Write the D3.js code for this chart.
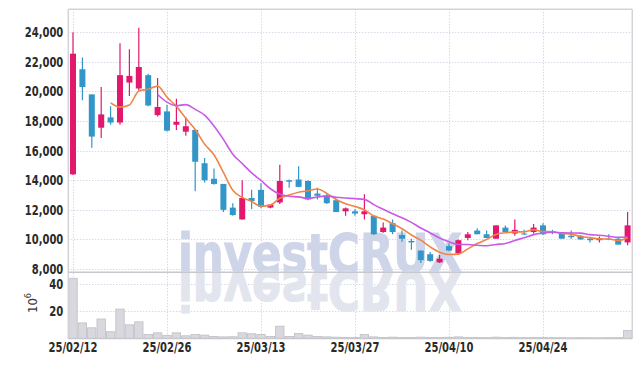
<!DOCTYPE html>
<html>
<head>
<meta charset="utf-8">
<script src="https://cdn.jsdelivr.net/npm/d3@7"></script>
<style>
body { margin: 0; background: #fff; }
svg { display: block; }
.axis text { font-family: "DejaVu Sans Condensed", "DejaVu Sans", sans-serif; font-stretch: condensed; font-weight: bold; font-size: 14px; fill: #2a2a2a; }
</style>
</head>
<body>
<svg id="chart" width="643" height="366"></svg>
<script>
// trading days (KRX)
var dates = ["2025-02-12","2025-02-13","2025-02-14","2025-02-17","2025-02-18","2025-02-19","2025-02-20","2025-02-21","2025-02-24","2025-02-25",
  "2025-02-26","2025-02-27","2025-02-28","2025-03-04","2025-03-05","2025-03-06","2025-03-07","2025-03-10","2025-03-11","2025-03-12",
  "2025-03-13","2025-03-14","2025-03-17","2025-03-18","2025-03-19","2025-03-20","2025-03-21","2025-03-24","2025-03-25","2025-03-26",
  "2025-03-27","2025-03-28","2025-03-31","2025-04-01","2025-04-02","2025-04-03","2025-04-04","2025-04-07","2025-04-08","2025-04-09",
  "2025-04-10","2025-04-11","2025-04-14","2025-04-15","2025-04-16","2025-04-17","2025-04-18","2025-04-21","2025-04-22","2025-04-23",
  "2025-04-24","2025-04-25","2025-04-28","2025-04-29","2025-04-30","2025-05-02","2025-05-07","2025-05-08","2025-05-09","2025-05-12"]

var open = [14400,21500,19800,17550,18250,17900,20600,20200,21100,18400,
  18650,17750,17280,17400,15150,14100,13750,12150,11350,12800,
  13350,12150,12500,14000,14050,13950,13100,12950,12650,11900,
  11900,11700,11600,10500,11100,10300,9900,9250,9000,8450,
  9550,9050,10100,10600,10350,10050,10800,10400,10400,10500,
  10950,10550,10450,10250,10250,10050,9950,10050,10050,9800]
var high = [24000,22300,19800,20300,19000,23250,22850,24300,21200,20900,
  19100,19500,18250,17450,15500,14800,13750,12450,14000,13350,
  13800,12400,15050,14050,14950,14000,13500,13100,12750,12150,
  12050,13050,11600,11150,11350,10600,10050,9250,9150,8950,
  9750,10000,10500,10750,10600,10950,10950,11350,10650,11050,
  11100,10650,10450,10600,10300,10150,10200,10350,10100,11850]
var low = [14350,19400,16200,16850,17750,17750,19700,20050,19000,18300,
  17300,17400,17000,13250,13850,13700,11850,11600,11350,12050,
  12100,12100,12400,13500,13550,12650,12700,12400,11850,11600,
  11600,11350,10300,10450,10350,9850,9300,8400,8500,8400,
  9200,9050,9950,10350,10100,10050,10500,10250,10300,10400,
  10300,10350,10050,10050,10000,9800,9800,9950,9650,9600]
var close = [22550,20300,16950,18450,17900,21100,21050,21650,19050,18950,
  17350,17950,17650,15250,14000,13750,12000,11650,12800,12600,
  12200,12350,13950,13900,13550,12700,12950,12450,11850,12100,
  11750,11900,10350,10800,10500,10050,9800,8600,8550,8700,
  9250,9950,10350,10350,10100,10950,10500,10650,10350,10800,
  10350,10450,10050,10150,10000,9950,10050,10000,9650,10950]
// volume, millions of shares
var volume = [44.4,11.5,7.9,14.4,5.0,21.7,10.1,12.3,3.0,4.2,
  2.3,4.2,2.0,3.0,2.5,1.5,1.2,1.3,4.2,3.5,
  3.0,1.5,9.1,1.5,3.7,2.5,1.5,1.2,1.0,0.8,
  0.8,3.0,1.2,0.8,1.0,0.8,0.7,1.0,0.8,0.7,
  0.9,1.2,0.7,0.8,0.6,1.0,0.7,0.9,0.6,0.7,
  0.8,0.6,0.6,0.5,0.6,0.5,0.5,0.6,0.7,5.9]

var priceTicks = [8000,10000,12000,14000,16000,18000,20000,22000,24000]
var volumeTicks = [20,40]
var dateTickIndex = [0,10,20,30,40,50]
var maPeriods = [5,10]

var upColor = '#e2186c'
var downColor = '#3396c8'
var maColors = ['#ef8547', '#c85ae6']
var gridColor = '#c4c8da'
var frameColor = '#d4d4d8'

var plotLeft = 68.3, plotRight = 632.3, plotTop = 9.3, plotSplit = 272.3, plotBottom = 338.5

var svg = d3.select('#chart')
var parseDate = d3.timeParse('%Y-%m-%d')
var fmtDate = d3.timeFormat('%y/%m/%d')

var x = d3.scaleBand().domain(d3.range(dates.length)).range([plotLeft, plotRight])
var bw = x.bandwidth()
var cx = function(i) { return x(i) + bw / 2 }
var y = d3.scaleLinear().domain([7780, 25550]).range([plotSplit, plotTop])
var yv = d3.scaleLinear().domain([0, d3.max(volume) * 1.1]).range([plotBottom, plotSplit])

// grid
var grid = svg.append('g').attr('stroke', gridColor).attr('stroke-dasharray', '1,2')
grid.selectAll('.hp').data(priceTicks).enter().append('line')
  .attr('x1', plotLeft).attr('x2', plotRight)
  .attr('y1', function(d) { return Math.round(y(d)) + 0.5 })
  .attr('y2', function(d) { return Math.round(y(d)) + 0.5 })
grid.selectAll('.hv').data(volumeTicks).enter().append('line')
  .attr('x1', plotLeft).attr('x2', plotRight)
  .attr('y1', function(d) { return Math.round(yv(d)) + 0.5 })
  .attr('y2', function(d) { return Math.round(yv(d)) + 0.5 })
grid.selectAll('.vx').data(dateTickIndex).enter().append('line')
  .attr('x1', function(i) { return Math.round(cx(i)) + 0.5 })
  .attr('x2', function(i) { return Math.round(cx(i)) + 0.5 })
  .attr('y1', plotTop).attr('y2', plotBottom)

// watermark with reflection
var wm = svg.append('g')
wm.append('text').text('investCRUX')
  .attr('x', 178).attr('y', plotSplit - 0.5)
  .attr('textLength', 284).attr('lengthAdjust', 'spacingAndGlyphs')
  .attr('font-family', 'DejaVu Sans').attr('font-weight', 'bold').attr('font-size', 54)
  .attr('fill', '#cfd5e8').attr('stroke', '#cfd5e8').attr('stroke-width', 1.2)
wm.append('text').text('investCRUX')
  .attr('x', 178).attr('y', plotSplit + 0.5)
  .attr('transform', 'translate(0,' + (2 * plotSplit) + ') scale(1,-1)')
  .attr('textLength', 284).attr('lengthAdjust', 'spacingAndGlyphs')
  .attr('font-family', 'DejaVu Sans').attr('font-weight', 'bold').attr('font-size', 54)
  .attr('fill', '#e3e5ee').attr('stroke', '#e3e5ee').attr('stroke-width', 1.2)

// volume bars
svg.append('g').selectAll('rect').data(volume).enter().append('rect')
  .attr('x', function(d, i) { return x(i) + 0.5 })
  .attr('width', bw - 1)
  .attr('y', function(d) { return yv(d) })
  .attr('height', function(d) { return plotBottom - yv(d) })
  .attr('fill', '#d8d8de').attr('stroke', '#bfbfc7').attr('stroke-width', 0.8)

// frame
function rule(x1, y1, x2, y2, c) {
  svg.append('line').attr('x1', x1).attr('y1', y1).attr('x2', x2).attr('y2', y2)
    .attr('stroke', c).attr('stroke-width', 1.5)
}
rule(plotLeft, plotTop, plotRight, plotTop, frameColor)
rule(plotRight, plotTop, plotRight, plotBottom, frameColor)
rule(plotLeft, plotTop, plotLeft, plotBottom, frameColor)
rule(plotLeft, plotSplit, plotRight, plotSplit, '#c8c8cc')
rule(plotLeft, plotBottom, plotRight, plotBottom, '#c8c8cc')

// candles
var candles = svg.append('g').selectAll('g').data(dates).enter().append('g')
  .attr('fill', function(d, i) { return close[i] >= open[i] ? upColor : downColor })
  .attr('stroke', function(d, i) { return close[i] >= open[i] ? upColor : downColor })
candles.append('line')
  .attr('x1', function(d, i) { return cx(i) }).attr('x2', function(d, i) { return cx(i) })
  .attr('y1', function(d, i) { return y(high[i]) }).attr('y2', function(d, i) { return y(low[i]) })
  .attr('stroke-width', 1.2)
candles.append('rect')
  .attr('x', function(d, i) { return cx(i) - 3 })
  .attr('width', 6)
  .attr('y', function(d, i) { return y(Math.max(open[i], close[i])) })
  .attr('height', function(d, i) { return Math.max(1, Math.abs(y(open[i]) - y(close[i]))) })
  .attr('stroke', 'none')

// moving averages from closes
maPeriods.forEach(function(n, k) {
  var pts = []
  for (var i = n - 1; i < close.length; i++) {
    pts.push([cx(i), y(d3.mean(close.slice(i - n + 1, i + 1)))])
  }
  svg.append('path').datum(pts)
    .attr('d', d3.line().curve(d3.curveMonotoneX))
    .attr('fill', 'none').attr('stroke', maColors[k]).attr('stroke-width', 1.6)
})

// axes
var yAxis = svg.append('g').attr('class', 'axis').attr('transform', 'translate(' + plotLeft + ',0)')
  .call(d3.axisLeft(y).tickValues(priceTicks).tickFormat(d3.format(',')).tickSize(0).tickPadding(5))
yAxis.select('.domain').remove()
var vAxis = svg.append('g').attr('class', 'axis').attr('transform', 'translate(' + plotLeft + ',0)')
  .call(d3.axisLeft(yv).tickValues(volumeTicks).tickSize(0).tickPadding(5))
vAxis.select('.domain').remove()
var xAxis = svg.append('g').attr('class', 'axis').attr('transform', 'translate(0,' + plotBottom + ')')
  .call(d3.axisBottom(x).tickValues(dateTickIndex).tickFormat(function(i) { return fmtDate(parseDate(dates[i])) }).tickSize(0).tickPadding(4))
xAxis.select('.domain').remove()

// squeeze labels to the narrow face of the original
svg.selectAll('.axis text').each(function() {
  var s = this.textContent
  var w = 0
  for (var j = 0; j < s.length; j++) w += /[0-9]/.test(s[j]) ? 7 : 3.5
  d3.select(this).attr('textLength', w).attr('lengthAdjust', 'spacingAndGlyphs')
})

// volume unit
var unit = svg.append('text')
  .attr('transform', 'translate(37,303) rotate(-90)')
  .attr('text-anchor', 'middle')
  .attr('font-family', '"DejaVu Sans Condensed", sans-serif').attr('font-size', 13).attr('fill', '#333')
unit.append('tspan').text('10')
unit.append('tspan').text('6').attr('font-size', 9).attr('dy', -6)
</script>
</body>
</html>
